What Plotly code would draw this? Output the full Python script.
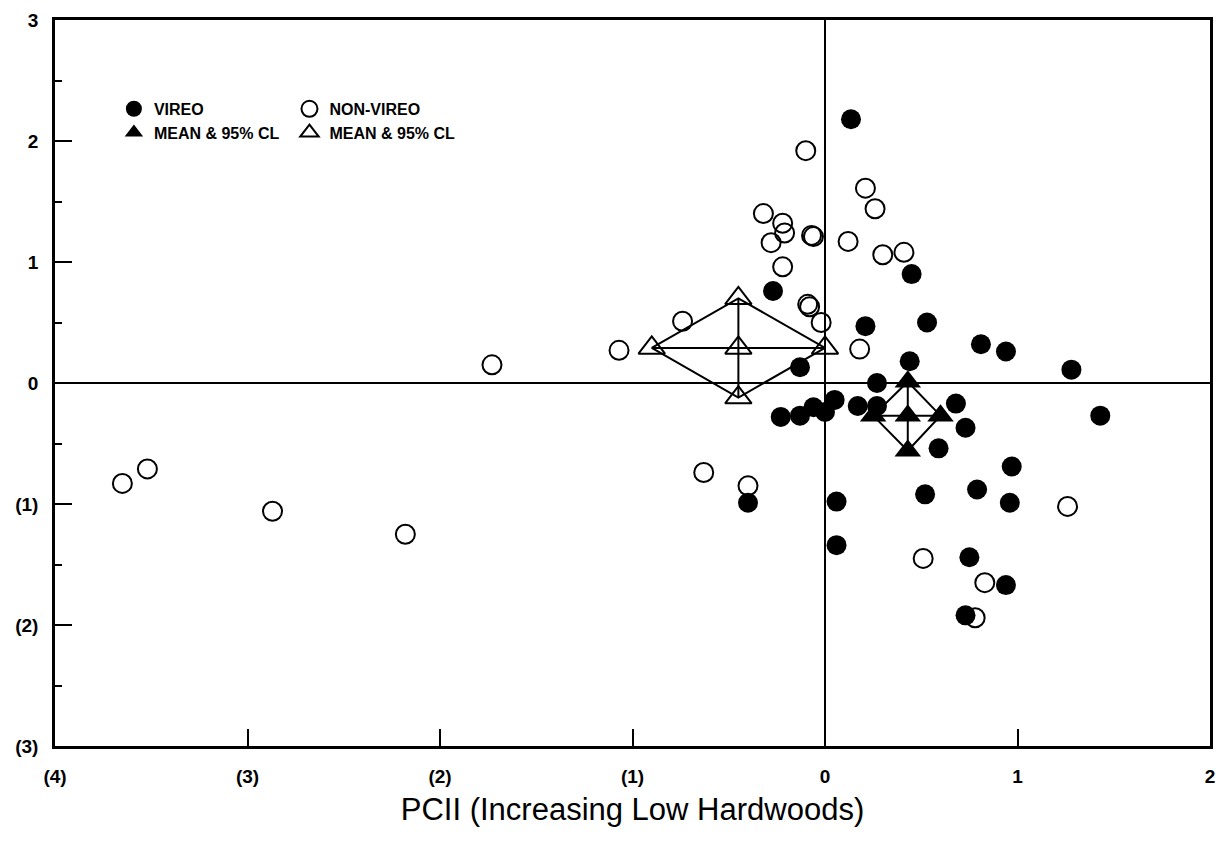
import plotly.graph_objects as go

# ---- data ----
vireo_x = [0.135, -0.27, 0.45, 0.21, 0.53, 0.81, 0.94, 1.28, 0.44, -0.13, 0.27, 0.05,
           -0.23, -0.13, -0.06, 0.00, 0.17, 0.27, 0.68, 0.73, 0.59, 1.43, 0.97, 0.79,
           0.96, 0.52, 0.06, 0.06, -0.40, 0.75, 0.94, 0.73]
vireo_y = [2.18, 0.76, 0.90, 0.47, 0.50, 0.32, 0.26, 0.11, 0.18, 0.13, 0.00, -0.14,
           -0.28, -0.27, -0.20, -0.24, -0.19, -0.19, -0.17, -0.37, -0.54, -0.27, -0.69, -0.88,
           -0.99, -0.92, -0.98, -1.34, -0.99, -1.44, -1.67, -1.92]

nonvireo_x = [-0.10, 0.21, 0.26, -0.32, -0.22, -0.21, -0.28, -0.07, -0.06, 0.12, 0.30, 0.41,
              -0.22, -0.09, -0.08, -0.02, -0.74, -1.07, 0.18, -1.73, -3.65, -3.52, -2.87, -2.18,
              -0.63, -0.40, 0.51, 0.83, 0.78, 1.26]
nonvireo_y = [1.92, 1.61, 1.44, 1.40, 1.32, 1.24, 1.16, 1.22, 1.21, 1.17, 1.06, 1.08,
              0.96, 0.65, 0.63, 0.50, 0.51, 0.27, 0.28, 0.15, -0.83, -0.71, -1.06, -1.25,
              -0.74, -0.85, -1.45, -1.65, -1.94, -1.02]

vireo_mean = [0.43, -0.27]
vireo_cl_x = [0.25, 0.60]
vireo_cl_y = [-0.56, 0.01]

nonvireo_mean = [-0.45, 0.29]
nonvireo_cl_x = [-0.90, 0.00]
nonvireo_cl_y = [-0.12, 0.70]

x_tickvals = [-4, -3, -2, -1, 0, 1, 2]
x_ticktext = ["(4)", "(3)", "(2)", "(1)", "0", "1", "2"]
y_tickvals = [-3, -2, -1, 0, 1, 2, 3]
y_ticktext = ["(3)", "(2)", "(1)", "0", "1", "2", "3"]

x_title = "PCII (Increasing Low Hardwoods)"


def diamond(mean, clx, cly):
    mx, my = mean
    xs = [clx[0], mx, clx[1], mx, clx[0], None, clx[0], clx[1], None, mx, mx]
    ys = [my, cly[1], my, cly[0], my, None, my, my, None, cly[1], cly[0]]
    return xs, ys


def tri_points(mean, clx, cly):
    mx, my = mean
    return [mx, clx[0], clx[1], mx, mx], [my, my, my, cly[1], cly[0]]


FONT = "Liberation Sans, Arial, sans-serif"
fig = go.Figure()

# non-vireo open circles
fig.add_trace(go.Scatter(
    x=nonvireo_x, y=nonvireo_y, mode="markers", name="NON-VIREO", legend="legend2",
    marker=dict(symbol="circle-open", size=19, color="black", line=dict(width=2, color="black")),
))
dx, dy = diamond(nonvireo_mean, nonvireo_cl_x, nonvireo_cl_y)
fig.add_trace(go.Scatter(x=dx, y=dy, mode="lines", line=dict(color="black", width=2),
                         showlegend=False, hoverinfo="skip"))
tx, ty = tri_points(nonvireo_mean, nonvireo_cl_x, nonvireo_cl_y)
fig.add_trace(go.Scatter(
    x=tx, y=ty, mode="markers", name="MEAN & 95% CL", legend="legend2",
    marker=dict(symbol="triangle-up-open", size=23, color="black", line=dict(width=2, color="black")),
))

# vireo filled circles
fig.add_trace(go.Scatter(
    x=vireo_x, y=vireo_y, mode="markers", name="VIREO", legend="legend",
    marker=dict(symbol="circle", size=20, color="black", line=dict(width=0)),
))
dx, dy = diamond(vireo_mean, vireo_cl_x, vireo_cl_y)
fig.add_trace(go.Scatter(x=dx, y=dy, mode="lines", line=dict(color="black", width=2),
                         showlegend=False, hoverinfo="skip"))
tx, ty = tri_points(vireo_mean, vireo_cl_x, vireo_cl_y)
fig.add_trace(go.Scatter(
    x=tx, y=ty, mode="markers", name="MEAN & 95% CL", legend="legend",
    marker=dict(symbol="triangle-up", size=23, color="black", line=dict(width=0)),
))

legend_font = dict(family=FONT, size=16, color="black", weight="bold")

fig.update_layout(
    width=1216, height=836,
    margin=dict(l=47, r=14, t=12, b=98, autoexpand=False),
    paper_bgcolor="white", plot_bgcolor="white",
    showlegend=True,
    legend=dict(x=0.051, y=0.901, xanchor="left", yanchor="top", font=legend_font,
                bgcolor="rgba(0,0,0,0)", itemsizing="trace", tracegroupgap=0),
    legend2=dict(x=0.203, y=0.901, xanchor="left", yanchor="top", font=legend_font,
                 bgcolor="rgba(0,0,0,0)", itemsizing="trace", tracegroupgap=0),
    xaxis=dict(
        range=[-4, 2], tickvals=x_tickvals, ticktext=x_ticktext,
        ticks="inside", ticklen=17, tickwidth=2, tickcolor="black",
        showline=True, linecolor="black", linewidth=2.5, mirror=True,
        showgrid=False, zeroline=True, zerolinecolor="black", zerolinewidth=2,
        tickfont=dict(family=FONT, size=19, color="black", weight="bold"),
        ticklabelstandoff=11,
        title=dict(text=x_title, font=dict(family=FONT, size=31, color="black"), standoff=13),
        automargin=False,
    ),
    yaxis=dict(
        range=[-3, 3], tickvals=y_tickvals, ticktext=y_ticktext,
        ticks="inside", ticklen=17, tickwidth=2, tickcolor="black",
        minor=dict(dtick=0.5, tick0=0, ticks="inside", ticklen=7, tickwidth=2, tickcolor="black"),
        showline=True, linecolor="black", linewidth=2.5, mirror=True,
        showgrid=False, zeroline=True, zerolinecolor="black", zerolinewidth=2,
        tickfont=dict(family=FONT, size=19, color="black", weight="bold"),
        ticklabelstandoff=10,
        automargin=False,
    ),
)

fig.write_html("out.html")
